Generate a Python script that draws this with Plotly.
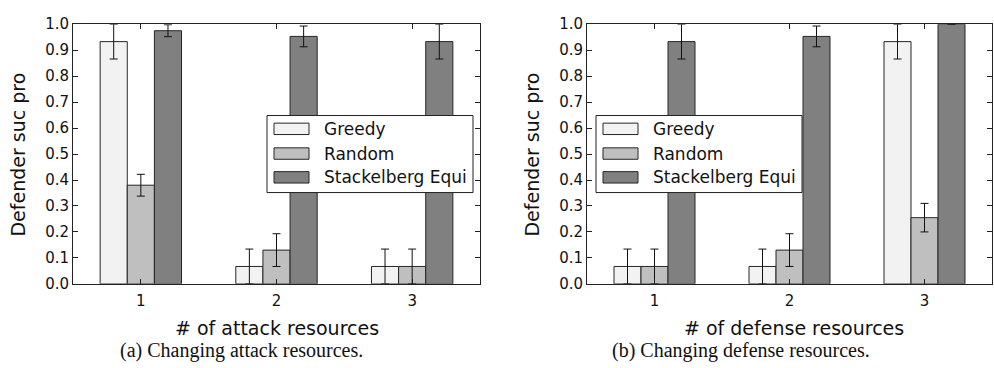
import plotly.graph_objects as go

W, H = 994, 368

categories = [1, 2, 3]
tick_labels = ["1", "2", "3"]
series_names = ["Greedy", "Random", "Stackelberg Equi"]

attack_greedy = [0.933, 0.067, 0.067]
attack_greedy_err = [0.067, 0.067, 0.067]
attack_random = [0.38, 0.13, 0.067]
attack_random_err = [0.042, 0.063, 0.067]
attack_stack = [0.975, 0.953, 0.933]
attack_stack_err = [0.023, 0.04, 0.067]

defense_greedy = [0.067, 0.067, 0.933]
defense_greedy_err = [0.067, 0.067, 0.067]
defense_random = [0.067, 0.13, 0.255]
defense_random_err = [0.067, 0.063, 0.055]
defense_stack = [0.933, 0.953, 1.0]
defense_stack_err = [0.067, 0.04, 0.0]

colors = ["#f2f2f2", "#bfbfbf", "#808080"]
edge = "#262626"


def px(x):
    return x / W


def py(y):
    return 1 - y / H


fig = go.Figure()

panels = [
    ("x", "y", [attack_greedy, attack_random, attack_stack],
     [attack_greedy_err, attack_random_err, attack_stack_err]),
    ("x2", "y2", [defense_greedy, defense_random, defense_stack],
     [defense_greedy_err, defense_random_err, defense_stack_err]),
]

for xa, ya, vals, errs in panels:
    for i, name in enumerate(series_names):
        fig.add_trace(go.Bar(
            x=categories, y=vals[i], name=name,
            xaxis=xa, yaxis=ya, offsetgroup=str(i),
            marker=dict(color=colors[i], line=dict(color=edge, width=1)),
            error_y=dict(type="data", array=errs[i], color="#111111",
                         thickness=1, width=4),
            showlegend=False,
        ))

axis_common = dict(
    showgrid=False, zeroline=False, showline=True, linecolor="#222222",
    linewidth=1, mirror="ticks", ticks="inside", ticklen=5,
    tickcolor="#222222", tickfont=dict(family="DejaVu Sans", size=15, color="#111111"),
)

y_top, y_bot = 16, 289
fig.update_layout(
    width=W, height=H, margin=dict(l=0, r=0, t=0, b=0),
    paper_bgcolor="white", plot_bgcolor="white",
    barmode="group", bargap=0.4, bargroupgap=0,
    xaxis=dict(domain=[px(73), px(480)], range=[0.5, 3.5], tickvals=categories,
               ticktext=tick_labels, anchor="y", ticklabelstandoff=3, **axis_common),
    yaxis=dict(domain=[py(y_bot), py(y_top)], range=[0, 1], dtick=0.1,
               tickformat=".1f", anchor="x", **axis_common),
    xaxis2=dict(domain=[px(587), px(992)], range=[0.5, 3.5], tickvals=categories,
                ticktext=tick_labels, anchor="y2", ticklabelstandoff=3, **axis_common),
    yaxis2=dict(domain=[py(y_bot), py(y_top)], range=[0, 1], dtick=0.1,
                tickformat=".1f", anchor="x2", **axis_common),
)

shapes = []
annotations = []

# axis titles and captions
for xc_title, xc_cap, ylab_x, xtitle, caption in [
    (277, 241, 18, "# of attack resources", "(a) Changing attack resources."),
    (794, 741, 532, "# of defense resources", "(b) Changing defense resources."),
]:
    annotations.append(dict(x=px(xc_title), y=py(335), xref="paper", yref="paper",
                            text=xtitle, showarrow=False, xanchor="center", yanchor="middle",
                            font=dict(family="DejaVu Sans", size=19, color="#111111")))
    annotations.append(dict(x=px(xc_cap), y=py(359), xref="paper", yref="paper",
                            text=caption, showarrow=False, xanchor="center", yanchor="middle",
                            font=dict(family="Liberation Serif", size=20, color="#111111")))
    annotations.append(dict(x=px(ylab_x), y=py(153), xref="paper", yref="paper",
                            text="Defender suc pro", showarrow=False, textangle=-90,
                            xanchor="center", yanchor="middle",
                            font=dict(family="DejaVu Sans", size=19, color="#111111")))

# custom legends (matplotlib style)
for bx0, bx1 in [(267, 473), (596, 802)]:
    shapes.append(dict(type="rect", xref="paper", yref="paper",
                       x0=px(bx0), x1=px(bx1), y0=py(193), y1=py(112),
                       line=dict(color="#222222", width=1), fillcolor="white", layer="above"))
    rows = [126, 152, 177]
    for i, name in enumerate(series_names):
        yc = rows[i]
        shapes.append(dict(type="rect", xref="paper", yref="paper",
                           x0=px(bx0 + 7), x1=px(bx0 + 42), y0=py(yc + 6), y1=py(yc - 6),
                           line=dict(color=edge, width=1), fillcolor=colors[i], layer="above"))
        annotations.append(dict(x=px(bx0 + 55), y=py(yc), xref="paper", yref="paper",
                                text=name, showarrow=False, xanchor="left", yanchor="middle",
                                font=dict(family="DejaVu Sans", size=17, color="#111111")))

fig.update_layout(shapes=shapes, annotations=annotations)

fig.write_html("out.html")
